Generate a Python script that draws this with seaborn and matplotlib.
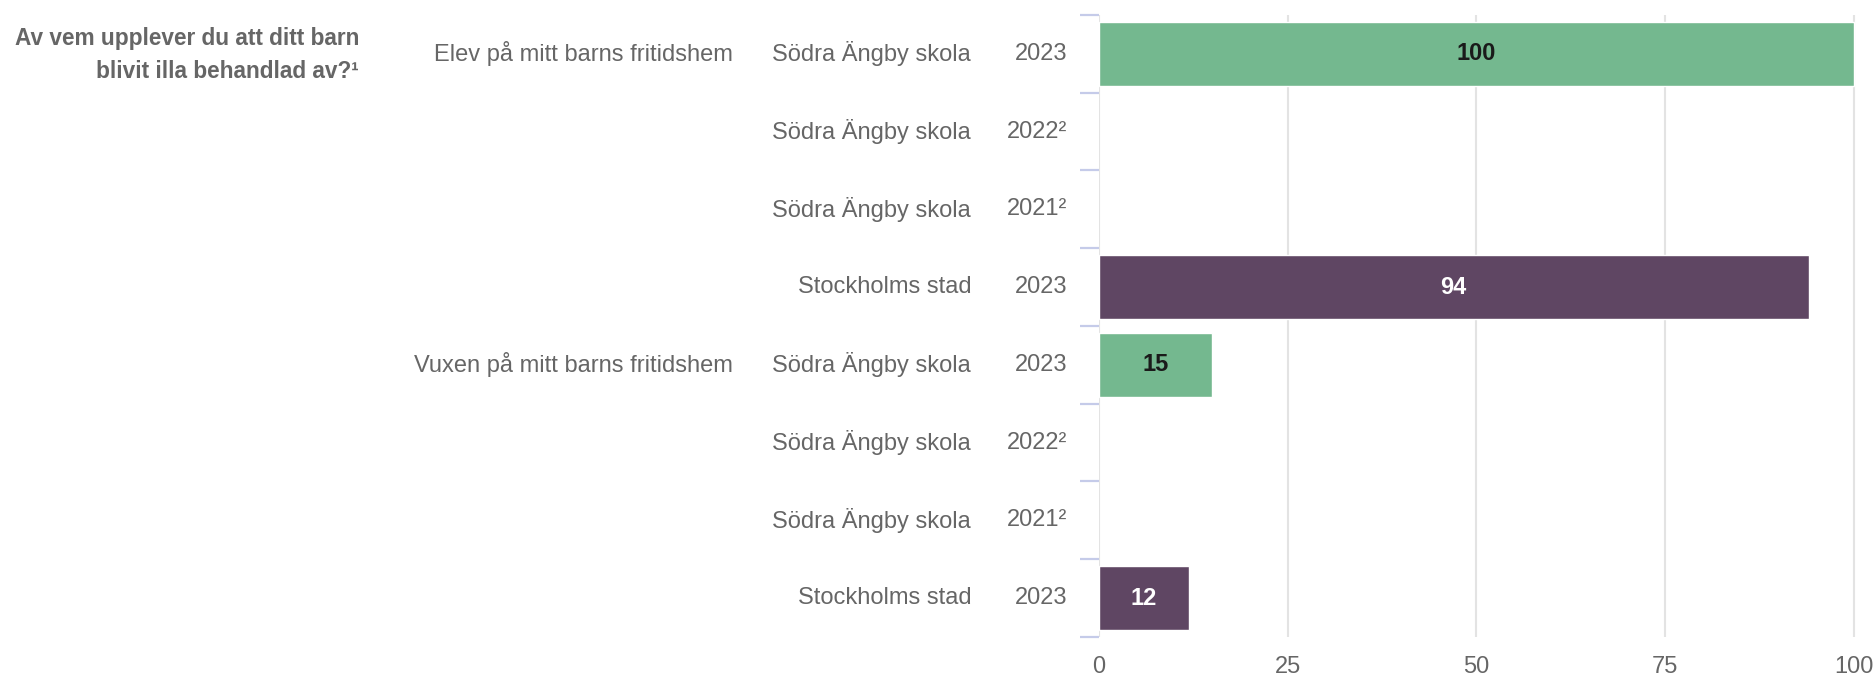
import pandas as pd
import matplotlib.pyplot as plt
import matplotlib.transforms as mtransforms
import seaborn as sns

# data
title = "Av vem upplever du att ditt barn\nblivit illa behandlad av?\u00b9"
questions = ["Elev på mitt barns fritidshem"] * 4 + ["Vuxen på mitt barns fritidshem"] * 4
units = ["Södra Ängby skola", "Södra Ängby skola", "Södra Ängby skola", "Stockholms stad"] * 2
years = ["2023", "2022\u00b2", "2021\u00b2", "2023"] * 2
values = [100, None, None, 94, 15, None, None, 12]
groups = ["skola", "skola", "skola", "stad"] * 2

colors = {"skola": "#74b88f", "stad": "#5f4663"}
label_colors = {"skola": "#1a1a1a", "stad": "white"}
text_grey = "#666666"

sns.set_theme(style="white")
plt.rcParams["font.family"] = ["Liberation Sans", "DejaVu Sans"]

df = pd.DataFrame({
    "row": [f"r{i}" for i in range(len(values))],
    "value": values,
    "group": groups,
})

fig = plt.figure(figsize=(18.75, 6.78), dpi=100)
ax = fig.add_axes([0.586, 0.0605, 0.404, 0.9175])

sns.barplot(data=df, x="value", y="row", hue="group", palette=colors,
            dodge=False, width=0.83, legend=False, ax=ax, saturation=1)

ax.set_xlim(0, 100.3)
ax.set_ylim(len(values) - 0.5, -0.5)
ax.set_xticks([0, 25, 50, 75, 100])
ax.set_xlabel("")
ax.set_ylabel("")
ax.grid(axis="x", color="#e3e3e3", linewidth=1.5)
ax.set_axisbelow(True)
for s in ax.spines.values():
    s.set_visible(False)

ax.set_yticks(range(len(values)))
ax.set_yticklabels([])
ax.tick_params(axis="y", which="major", length=0)
ax.set_yticks([i - 0.5 for i in range(len(values) + 1)], minor=True)
ax.tick_params(axis="y", which="minor", left=True, length=14, width=1.6,
               color="#c5cbe9")
ax.tick_params(axis="x", length=0, pad=14, labelsize=17, labelcolor=text_grey)

# value labels inside bars
for i, (v, g) in enumerate(zip(values, groups)):
    if v is None:
        continue
    ax.text(v / 2, i, f"{v:g}", ha="center", va="center", fontsize=17,
            fontweight="bold", color=label_colors[g])

# row labels in columns to the left of the axes
trans = mtransforms.blended_transform_factory(fig.transFigure, ax.transData)
for i in range(len(values)):
    ax.text(0.569, i, years[i], transform=trans, ha="right", va="center",
            fontsize=17, color=text_grey)
    ax.text(0.518, i, units[i], transform=trans, ha="right", va="center",
            fontsize=17, color=text_grey)
    if i == 0 or questions[i] != questions[i - 1]:
        ax.text(0.391, i, questions[i], transform=trans, ha="right", va="center",
                fontsize=17, color=text_grey)

ax.text(0.1915, 0.02, title, transform=trans, ha="right", va="center",
        fontsize=16.3, fontweight="bold", color=text_grey, linespacing=1.55)

fig.savefig("out.png", dpi=100)
